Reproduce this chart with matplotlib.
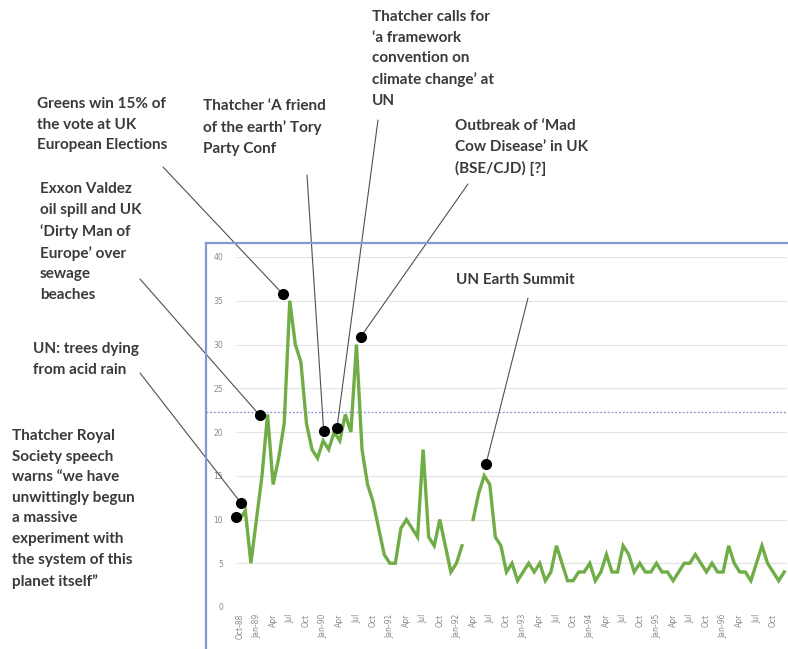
import numpy as np
import matplotlib
matplotlib.use("Agg")
import matplotlib.pyplot as plt
from matplotlib.lines import Line2D

# monthly series, Oct-88 .. Dec-96 (nan = missing month)
values = [10, 11, 5, 10, 15, 22, 14, 17, 21, 35, 30, 28,      # Oct-88 .. Sep-89
          21, 18, 17, 19, 18, 20, 19, 22, 20, 30, 18, 14,     # Oct-89 .. Sep-90
          12, 9, 6, 5, 5, 9, 10, 9, 8, 18, 8, 7,              # Oct-90 .. Sep-91
          10, 7, 4, 5, 7, np.nan, 10, 13, 15, 14, 8, 7,       # Oct-91 .. Sep-92
          4, 5, 3, 4, 5, 4, 5, 3, 4, 7, 5, 3,                 # Oct-92 .. Sep-93
          3, 4, 4, 5, 3, 4, 6, 4, 4, 7, 6, 4,                 # Oct-93 .. Sep-94
          5, 4, 4, 5, 4, 4, 3, 4, 5, 5, 6, 5,                 # Oct-94 .. Sep-95
          4, 5, 4, 4, 7, 5, 4, 4, 3, 5, 7, 5,                 # Oct-95 .. Sep-96
          4, 3, 4]                                            # Oct-96 .. Dec-96

months = ["Oct", "Jan", "Apr", "Jul"]
years = ["88", "89", "90", "91", "92", "93", "94", "95", "96"]

ref_level = 22.3

# annotation texts and the dot each one points to (month index, value)
notes = [
    "Thatcher Royal\nSociety speech\nwarns \u201cwe have\nunwittingly begun\na massive\nexperiment with\nthe system of this\nplanet itself\u201d",
    "UN: trees dying\nfrom acid rain",
    "Exxon Valdez\noil spill and UK\n\u2018Dirty Man of\nEurope\u2019 over\nsewage\nbeaches",
    "Greens win 15% of\nthe vote at UK\nEuropean Elections",
    "Thatcher \u2018A friend\nof the earth\u2019 Tory\nParty Conf",
    "Thatcher calls for\n\u2018a framework\nconvention on\nclimate change\u2019 at\nUN",
    "Outbreak of \u2018Mad\nCow Disease\u2019 in UK\n(BSE/CJD) [?]",
    "UN Earth Summit",
]
dot_x = [-0.7, 0.2, 3.6, 7.7, 15.1, 17.5, 21.8, 44.3]
dot_y = [10.3, 11.9, 21.9, 35.8, 20.1, 20.5, 30.9, 16.3]

# text top-left and connector start, figure pixels from the top
text_pos = [(12, 429), (33, 342), (40, 182), (37, 97), (203, 99), (372, 10), (455, 119), (456, 273)]
line_start = [(141, 507), (140, 373), (140, 279), (163, 167), (307, 175), (378, 120), (468, 184), (528, 298)]

W, H = 788, 649
fig = plt.figure(figsize=(W / 100, H / 100), dpi=100)
ax = fig.add_axes([237 / W, 1 - 607 / H, 550 / W, 350 / H])

x = np.arange(len(values))
ax.plot(x, values, color="#70ad47", lw=2.4, solid_joinstyle="miter", zorder=3)

ax.set_xlim(-0.5, len(values) - 0.5)
ax.set_ylim(0, 40)
ax.set_yticks(range(0, 41, 5))
ax.grid(axis="y", color="#e3e3e3", lw=0.8)
ax.set_axisbelow(True)
for s in ax.spines.values():
    s.set_visible(False)

labels = []
for i in range(0, len(values), 3):
    m = months[i // 3 % 4]
    if m == "Jan":
        labels.append("Jan-" + years[(i + 9) // 12])
    elif i == 0:
        labels.append("Oct-88")
    else:
        labels.append(m)
ax.set_xticks(range(0, len(values), 3))
ax.set_xticklabels(labels, rotation=90)
ax.tick_params(length=0, labelsize=5.5, labelcolor="#8a8a8a", pad=5)
ax.tick_params(axis="y", pad=10)

ax.axhline(ref_level, xmin=-31 / 550, xmax=1, color="#8c8cd8", lw=0.9,
           ls=(0, (1.5, 1.5)), clip_on=False, zorder=2)

ax.plot(dot_x, dot_y, "o", color="black", ms=7, zorder=5, clip_on=False)

for txt, (tx, ty), (lx, ly), dx, dy in zip(notes, text_pos, line_start, dot_x, dot_y):
    fig.text(tx / W, 1 - ty / H, txt, ha="left", va="top", fontsize=11,
             family="Lato", weight="bold", color="#3a3a3a", linespacing=1.6)
    ax.annotate("", xy=(dx, dy), xytext=(lx, H - ly), textcoords="figure pixels",
                arrowprops=dict(arrowstyle="-", color="#505050", lw=0.8,
                                shrinkA=0, shrinkB=0), zorder=4)

# chart border (clipped by the image edge)
bx, by = 206 / W, 1 - 243 / H
fig.add_artist(Line2D([bx, bx], [0, by], color="#8797d6", lw=1.6))
fig.add_artist(Line2D([bx, 1], [by, by], color="#8797d6", lw=1.6))

fig.savefig("out.png", dpi=100)
